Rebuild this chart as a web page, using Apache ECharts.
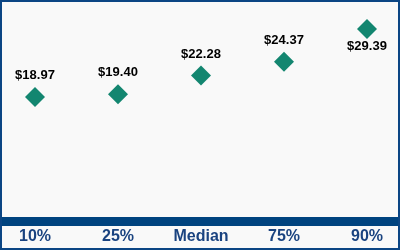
<!DOCTYPE html>
<html><head><meta charset="utf-8">
<script src="https://cdn.jsdelivr.net/npm/echarts@6/dist/echarts.min.js"></script>
<style>html,body{margin:0;padding:0;}#c{width:400px;height:250px;}</style>
</head><body><div id="c"></div>
<script>
const categories = ['10%', '25%', 'Median', '75%', '90%'];
const values = [18.97, 19.40, 22.28, 24.37, 29.39];
const labelPos = ['top', 'top', 'top', 'top', 'bottom'];

const chart = echarts.init(document.getElementById('c'), null, {renderer: 'canvas'});
chart.setOption({
  backgroundColor: '#f9f9f9',
  animation: false,
  graphic: [{type: 'rect', shape: {x: 1, y: 1, width: 398, height: 248}, style: {fill: 'none', stroke: '#0b4584', lineWidth: 2}, z: 100}],
  grid: [
    {left: 35, right: 33, top: 25, bottom: 29},
    {left: 0, right: 0, top: 25, bottom: 29}
  ],
  xAxis: [
    {type: 'category', gridIndex: 0, data: categories, boundaryGap: false,
     axisLine: {show: false}, axisTick: {show: false},
     axisLabel: {color: '#1a4380', fontFamily: 'Liberation Sans, Arial', fontWeight: 'bold', fontSize: 16, margin: 8}},
    {type: 'value', gridIndex: 1, min: 0, max: 1, axisLabel: {show: false}, axisTick: {show: false}, splitLine: {show: false},
     axisLine: {show: true, lineStyle: {color: '#00437f', width: 9}}}
  ],
  yAxis: [
    {type: 'value', gridIndex: 0, min: 0, max: 30, show: false},
    {type: 'value', gridIndex: 1, min: 0, max: 30, show: false}
  ],
  series: [{
    type: 'scatter', xAxisIndex: 0, yAxisIndex: 0,
    symbol: 'diamond', symbolSize: 20,
    itemStyle: {color: '#138670', opacity: 1},
    data: values.map((v, i) => ({value: v, label: {position: labelPos[i], distance: labelPos[i] === 'top' ? 5 : 1}})),
    label: {show: true, formatter: p => '$' + p.value.toFixed(2), color: '#000', fontFamily: 'Liberation Sans, Arial', fontWeight: 'bold', fontSize: 13}
  }]
});
</script></body></html>
